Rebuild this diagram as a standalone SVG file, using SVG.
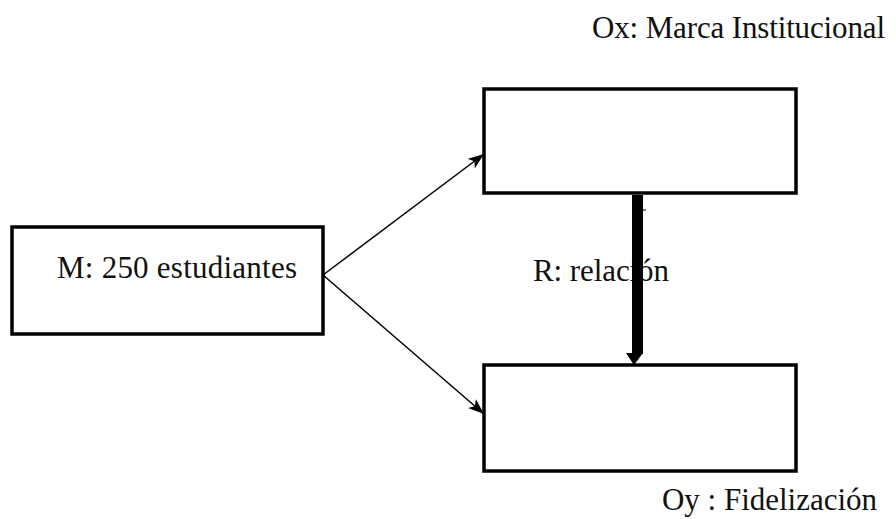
<svg xmlns="http://www.w3.org/2000/svg" width="896" height="519" viewBox="0 0 896 519">
<defs>
<style>
.box{fill:#fff;stroke:#000;stroke-width:3.5}
.lbl{font-family:"Liberation Serif","Times New Roman",serif;font-size:31px;fill:#111}
.thin{stroke:#000;stroke-width:1.5;fill:none}
</style>
<marker id="ah" markerWidth="16" markerHeight="12" refX="16" refY="6" orient="auto" markerUnits="userSpaceOnUse">
<path d="M0,0 L16,6 L0,12 L4,6 Z" fill="#000"/>
</marker>
</defs>
<rect width="896" height="519" fill="#fff"/>
<g id="node-M">
<rect class="box" x="12" y="227" width="311" height="107"/>
<text class="lbl" x="57" y="278" textLength="240" lengthAdjust="spacing">M: 250 estudiantes</text>
</g>
<g id="node-Ox">
<rect class="box" x="484" y="89" width="312" height="104"/>
<text class="lbl" x="592" y="38" textLength="293" lengthAdjust="spacing">Ox: Marca Institucional</text>
</g>
<g id="node-Oy">
<rect class="box" x="484" y="365" width="312" height="106"/>
<text class="lbl" x="662" y="510" textLength="215" lengthAdjust="spacing">Oy : Fidelización</text>
</g>
<text id="label-R" class="lbl" x="533" y="281" textLength="136" lengthAdjust="spacing">R: relación</text>
<g id="connectors">
<line class="thin" x1="323" y1="275" x2="484" y2="154" marker-end="url(#ah)"/>
<line class="thin" x1="323" y1="275" x2="484" y2="414" marker-end="url(#ah)"/>
<rect x="632" y="195" width="11" height="159" fill="#000"/>
<path d="M626,353 L643,353 L634,365 Z" fill="#000"/>
<line x1="642" y1="210" x2="646" y2="210" stroke="#000" stroke-width="1"/>
</g>
</svg>
